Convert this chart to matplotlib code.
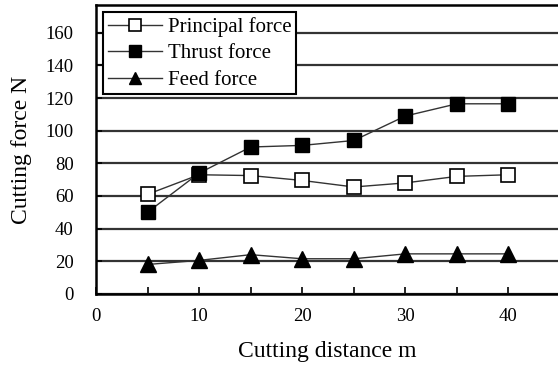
import matplotlib.pyplot as plt

plt.rcParams['font.family'] = ['Liberation Serif', 'DejaVu Serif']

# cutting distance (m) and the three force components (N)
distance = [5, 10, 15, 20, 25, 30, 35, 40]
principal = [61, 73, 72.5, 69.5, 65.5, 68, 72, 73]
thrust = [50, 74, 90, 91, 94, 109, 116.5, 116.5]
feed = [18, 20.5, 24, 21.5, 21.5, 24.5, 24.5, 24.5]

x_ticks = [0, 5, 10, 15, 20, 25, 30, 35, 40]
x_labels = ['0', '', '10', '', '20', '', '30', '', '40']
y_ticks = [0, 20, 40, 60, 80, 100, 120, 140, 160]

fig = plt.figure(figsize=(5.58, 3.65), dpi=100)
ax = fig.add_axes([0.172, 0.195, 0.828, 0.791])

ax.plot(distance, principal, color='#333333', lw=1.0, marker='s', ms=10,
        mfc='white', mec='black', mew=1.2, label='Principal force', zorder=3)
ax.plot(distance, thrust, color='#333333', lw=1.0, marker='s', ms=10,
        mfc='black', mec='black', label='Thrust force', zorder=3)
ax.plot(distance, feed, color='#333333', lw=1.0, marker='^', ms=11,
        mfc='black', mec='black', label='Feed force', zorder=3)

ax.set_xlim(0, 44.8)
ax.set_ylim(0, 177)
ax.set_xticks(x_ticks, x_labels)
ax.set_yticks(y_ticks)
ax.yaxis.grid(True, color='#333333', lw=1.6)
ax.set_axisbelow(True)
ax.tick_params(axis='both', direction='in', labelsize=13.5, width=1.2)
ax.tick_params(axis='x', length=5, pad=10)
ax.tick_params(axis='y', length=4, pad=16)

for side in ['left', 'bottom', 'top']:
    ax.spines[side].set_linewidth(1.8)
ax.spines['right'].set_visible(False)

ax.set_xlabel('Cutting distance m', fontsize=17, labelpad=12)
ax.set_ylabel('Cutting force N', fontsize=17, labelpad=10)

leg = ax.legend(loc='upper left', fontsize=15, frameon=True, fancybox=False,
                edgecolor='black', borderaxespad=0.35, handlelength=2.6,
                labelspacing=0.33, borderpad=0.22, handletextpad=0.3,
                markerscale=0.85)
leg.get_frame().set_linewidth(1.5)
leg.get_frame().set_alpha(1)

fig.savefig('out.png', dpi=100)
